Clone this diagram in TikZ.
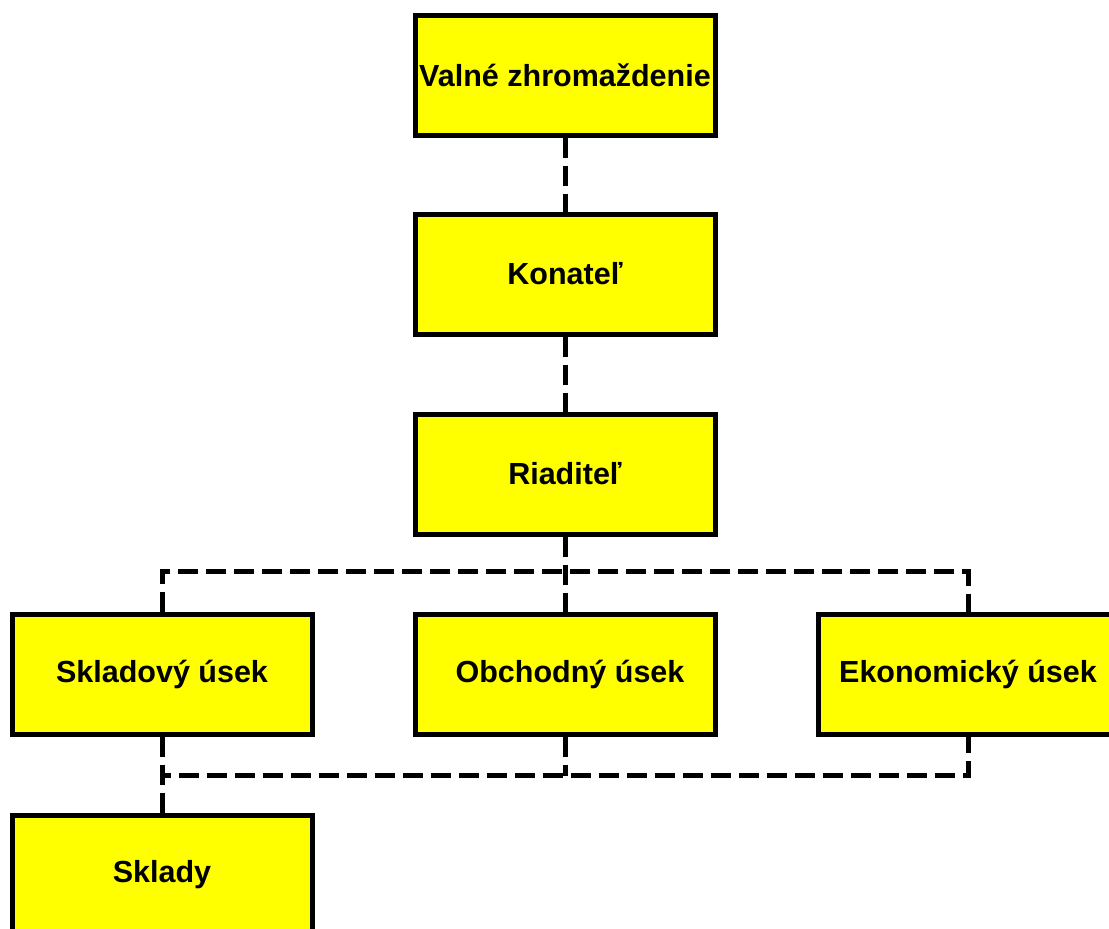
\documentclass[tikz,border=0pt]{standalone}
\usepackage{fontspec}
\setmainfont{Liberation Sans}
\usepackage{xcolor}
\definecolor{unitfill}{RGB}{255,255,0}

\tikzset{
  unit/.style={draw=black,fill=unitfill,line width=5pt,minimum width=300pt,
    minimum height=120pt,inner sep=0pt,font=\fontsize{30.5}{35}\selectfont\bfseries},
  link/.style={draw=black,line width=5pt,dash pattern=on 20pt off 8pt}
}

\begin{document}
\begin{tikzpicture}[x=1pt,y=-1pt]
\clip (0,0) rectangle (1109,929);
\fill[white] (0,0) rectangle (1109,929);
% boxes
\node[unit] (valne) at (565,75) {Valné zhromaždenie};
\node[unit] (konatel) at (565,274) {Konateľ};
\node[unit] (riaditel) at (565,474) {Riaditeľ};
\node[unit] (skladovy) at (162,674) {Skladový úsek};
\node[unit] (obchodny) at (565,674) {\hspace{10pt}Obchodný úsek};
\node[unit] (ekonomicky) at (968,674) {Ekonomický úsek};
\node[unit] (sklady) at (162,875) {Sklady};
% links
\draw[link] (valne) -- (konatel);
\draw[link] (konatel) -- (riaditel);
\draw[link] (riaditel) -- (obchodny);
\draw[link] (skladovy.north) -- ++(0,-40) -| (ekonomicky.north);
\draw[link] (skladovy.south) -- ++(0,39) -| (ekonomicky.south);
\draw[link] (obchodny.south) -- ++(0,39);
\draw[link] (skladovy.south) -- (sklady.north);
\end{tikzpicture}
\end{document}
